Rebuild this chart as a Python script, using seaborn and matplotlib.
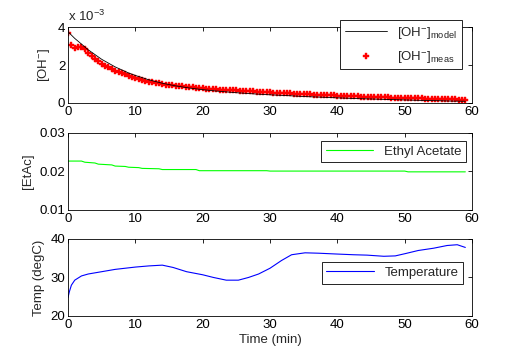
import numpy as np
import pandas as pd
import matplotlib
matplotlib.use('Agg')
import matplotlib.pyplot as plt
import seaborn as sns

# [OH-] modelo (unidades de 1e-3)
t_model = [0, 1, 2, 3, 4, 5, 6, 7, 8, 9, 10, 12, 14, 16, 18, 20, 22, 25, 28, 30, 33, 35, 38, 40, 43, 45, 48, 50, 53, 55, 57, 59]
oh_model = [3.75, 3.4, 3.1, 2.8, 2.55, 2.3, 2.1, 1.9, 1.74, 1.58, 1.45, 1.22, 1.04, 0.9, 0.79, 0.7, 0.63, 0.54, 0.47, 0.43, 0.38, 0.34, 0.3, 0.27, 0.23, 0.21, 0.18, 0.16, 0.13, 0.12, 0.1, 0.09]

# [OH-] medido, cada 0.5 min (unidades de 1e-3)
oh_meas = [3.7, 3.05, 2.92, 2.95, 2.95, 2.82, 2.62, 2.46, 2.32, 2.2, 2.07, 1.96, 1.87, 1.79, 1.71, 1.63, 1.56, 1.5, 1.44, 1.38,
           1.32, 1.27, 1.22, 1.17, 1.13, 1.09, 1.06, 1.03, 1.0, 0.97, 0.95, 0.93, 0.91, 0.89, 0.87, 0.85, 0.83, 0.82, 0.8, 0.78,
           0.77, 0.76, 0.74, 0.73, 0.72, 0.71, 0.7, 0.69, 0.68, 0.67, 0.66, 0.65, 0.64, 0.63, 0.62, 0.61, 0.6, 0.59, 0.58, 0.57,
           0.56, 0.55, 0.54, 0.53, 0.52, 0.51, 0.5, 0.49, 0.48, 0.47, 0.47, 0.46, 0.45, 0.44, 0.43, 0.43, 0.42, 0.41, 0.4, 0.4,
           0.39, 0.38, 0.37, 0.37, 0.36, 0.35, 0.35, 0.34, 0.33, 0.33, 0.32, 0.31, 0.31, 0.3, 0.3, 0.29, 0.28, 0.28, 0.27, 0.27,
           0.26, 0.26, 0.25, 0.25, 0.24, 0.24, 0.23, 0.23, 0.22, 0.22, 0.21, 0.21, 0.2, 0.2, 0.19, 0.19, 0.18, 0.18, 0.17]
t_meas = [0.5 * i for i in range(len(oh_meas))]

# acetato de etilo
t_etac = [0, 2, 2.5, 4, 4.5, 6.5, 7, 8.5, 9, 10.5, 11, 13.5, 14, 19, 19.5, 29.5, 30, 50, 50.5, 59]
etac = [0.0227, 0.0227, 0.0224, 0.0222, 0.0219, 0.0217, 0.0214, 0.0213, 0.0211, 0.021, 0.0208, 0.0207, 0.0205, 0.0205, 0.0202, 0.0202, 0.0201, 0.0201, 0.0199, 0.0199]

# temperatura
t_temp = [0, 0.2, 0.5, 1, 2, 3, 5, 7, 10, 12, 14, 15.6, 17.6, 20, 21.6, 23.5, 25.3, 26.8, 28.3, 30, 31.7, 33.2, 35.2, 37.2, 39.7, 42.4, 44.4, 46.9, 48.6, 50.1, 52, 54.3, 56.3, 57.8, 59]
temp = [24.8, 26.3, 28.0, 29.3, 30.4, 30.9, 31.5, 32.1, 32.7, 33.0, 33.2, 32.6, 31.5, 30.7, 30.0, 29.3, 29.3, 30.0, 30.9, 32.4, 34.4, 35.9, 36.4, 36.3, 36.1, 35.9, 35.8, 35.5, 35.6, 36.2, 37.0, 37.6, 38.3, 38.5, 37.8]

sns.set_style('white')
plt.rcParams['font.family'] = ['Liberation Sans', 'DejaVu Sans']
plt.rcParams['mathtext.fontset'] = 'custom'
plt.rcParams['mathtext.rm'] = 'Liberation Sans'
plt.rcParams['font.size'] = 9.5

fig = plt.figure(figsize=(5.2, 3.55), dpi=100)
ax1 = fig.add_axes([0.1308, 0.7099, 0.777, 0.214])
ax2 = fig.add_axes([0.1308, 0.4085, 0.777, 0.217])
ax3 = fig.add_axes([0.1308, 0.1099, 0.777, 0.217])


def estilo(ax):
    ax.set_xlim(0, 60)
    ax.set_xticks(range(0, 61, 10))
    ax.tick_params(direction='in', top=True, right=True, length=3, width=0.6,
                   labelsize=9.5, colors='black', pad=2)
    for s in ax.spines.values():
        s.set_color('black')
        s.set_linewidth(0.6)


def leyenda(ax, anchor, hl=3.6):
    leg = ax.legend(loc='upper right', bbox_to_anchor=anchor, borderaxespad=0,
                    fancybox=False, edgecolor='black', framealpha=1, fontsize=9.5,
                    handlelength=hl, borderpad=0.35, labelspacing=0.6)
    leg.get_frame().set_linewidth(0.6)


# panel 1
sns.lineplot(x=t_model, y=oh_model, ax=ax1, color='black', linewidth=0.6,
             label=r'[OH$^{-}$]$_{\mathrm{model}}$')
sns.scatterplot(x=t_meas, y=oh_meas, ax=ax1, color='red', marker='P', s=20,
                linewidth=0.3, edgecolor='red', label=r'[OH$^{-}$]$_{\mathrm{meas}}$')
ax1.set_ylim(0, 4)
ax1.set_yticks([0, 2, 4])
ax1.set_ylabel(r'[OH$^{-}$]', labelpad=4)
ax1.text(0, 1.04, r'x 10$^{-3}$', transform=ax1.transAxes, fontsize=9.5, va='bottom')
estilo(ax1)
leyenda(ax1, (0.975, 1.09), hl=3.2)

# panel 2
sns.lineplot(x=t_etac, y=etac, ax=ax2, color='#00ff00', linewidth=0.8, label='Ethyl Acetate')
ax2.set_ylim(0.01, 0.03)
ax2.set_yticks([0.01, 0.02, 0.03])
ax2.set_yticklabels(['0.01', '0.02', '0.03'])
ax2.set_ylabel('[EtAc]', labelpad=4)
estilo(ax2)
leyenda(ax2, (0.985, 0.896))

# panel 3
sns.lineplot(x=t_temp, y=temp, ax=ax3, color='blue', linewidth=0.8, label='Temperature')
ax3.set_ylim(20, 40)
ax3.set_yticks([20, 30, 40])
ax3.set_ylabel('Temp (degC)', labelpad=4)
ax3.set_xlabel('Time (min)', labelpad=2)
estilo(ax3)
leyenda(ax3, (0.978, 0.70))

fig.savefig('out.png', dpi=100, facecolor='white')
